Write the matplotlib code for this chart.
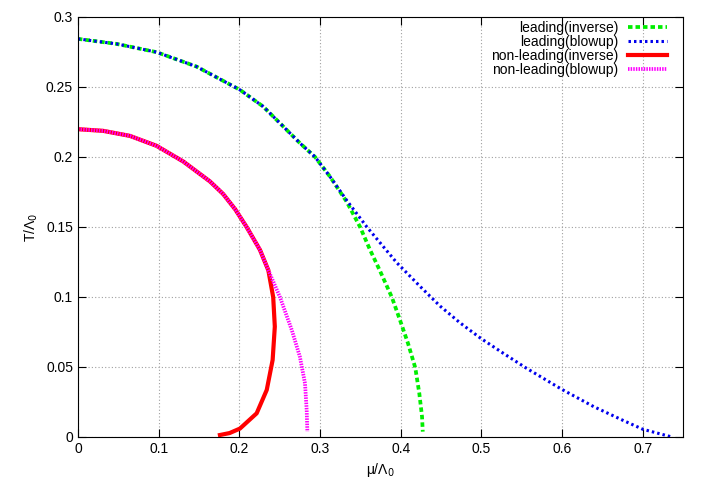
import numpy as np
from matplotlib import pyplot as plt

plt.rcParams['font.family'] = ['Liberation Sans', 'DejaVu Sans']

# leading order, inverse method
mu_lead_inv = [0.0, 0.048, 0.0975, 0.147, 0.2008, 0.2297, 0.2545, 0.2752, 0.2938,
               0.3124, 0.333, 0.3496, 0.362, 0.374, 0.389, 0.399, 0.409, 0.418,
               0.423, 0.4264, 0.4273]
T_lead_inv = [0.2843, 0.2807, 0.2748, 0.2645, 0.2479, 0.2359, 0.2217, 0.2098, 0.2,
              0.1859, 0.168, 0.15, 0.1336, 0.119, 0.0998, 0.0836, 0.0669, 0.0495,
              0.0312, 0.0145, 0.0038]

# leading order, blowup method
mu_lead_blow = [0.0, 0.048, 0.0975, 0.147, 0.2008, 0.2297, 0.2545, 0.2752, 0.2938,
                0.3124, 0.333, 0.358, 0.395, 0.424, 0.4487, 0.4735, 0.499, 0.527,
                0.556, 0.5996, 0.639, 0.676, 0.700, 0.736]
T_lead_blow = [0.2843, 0.2807, 0.2748, 0.2645, 0.2479, 0.2359, 0.2217, 0.2098, 0.2,
               0.1859, 0.169, 0.15, 0.1245, 0.1075, 0.0935, 0.0815, 0.0705, 0.0598,
               0.049, 0.034, 0.0217, 0.0117, 0.0055, 0.0]

# non-leading, inverse method
mu_nl_inv = [0.0, 0.0314, 0.0645, 0.0975, 0.1306, 0.1636, 0.18, 0.195, 0.209, 0.2256,
             0.236, 0.242, 0.244, 0.2413, 0.234, 0.2215, 0.2008, 0.188, 0.176]
T_nl_inv = [0.2198, 0.2186, 0.215, 0.2079, 0.1967, 0.1825, 0.1735, 0.1625, 0.150,
            0.1336, 0.119, 0.0998, 0.0788, 0.055, 0.0336, 0.0169, 0.006, 0.0028, 0.0014]

# non-leading, blowup method
mu_nl_blow = [0.0, 0.0314, 0.0645, 0.0975, 0.1306, 0.1636, 0.18, 0.195, 0.209, 0.2256,
              0.234, 0.242, 0.2504, 0.265, 0.275, 0.2814, 0.2835, 0.2843]
T_nl_blow = [0.2198, 0.2186, 0.215, 0.2079, 0.1967, 0.1825, 0.1735, 0.1625, 0.150,
             0.1336, 0.1217, 0.111, 0.0998, 0.0764, 0.0574, 0.0383, 0.019, 0.0038]

fig = plt.figure(figsize=(7.08, 4.96), dpi=100)
ax = fig.add_axes([0.110, 0.119, 0.855, 0.847])

ax.plot(mu_lead_inv, T_lead_inv, color='#00ee00', lw=2.7, dashes=(1.2, 0.8),
        label='leading(inverse)')
ax.plot(mu_lead_blow, T_lead_blow, color='#0000ee', lw=2.2, dashes=(0.8, 1.0),
        label='leading(blowup)')
ax.plot(mu_nl_inv, T_nl_inv, color='#ff0000', lw=3.0, solid_joinstyle='round',
        label='non-leading(inverse)')
ax.plot(mu_nl_blow, T_nl_blow, color='#ff00ff', lw=2.7, dashes=(0.4, 0.3),
        label='non-leading(blowup)')

ax.set_xlim(0, 0.75)
ax.set_ylim(0, 0.3)
ax.set_xticks(np.arange(0, 0.71, 0.1))
ax.set_xticklabels(['0', '0.1', '0.2', '0.3', '0.4', '0.5', '0.6', '0.7'])
ax.set_yticks(np.arange(0, 0.301, 0.05))
ax.set_yticklabels(['0', '0.05', '0.1', '0.15', '0.2', '0.25', '0.3'])
ax.tick_params(direction='in', top=True, right=True, length=6, labelsize=10)
ax.grid(True, color='#a0a0a0', linestyle=(0, (1, 2)), lw=0.8)
ax.set_xlabel(r'μ/Λ$_0$', fontsize=10)
ax.set_ylabel(r'T/Λ$_0$', fontsize=10)

ax.legend(loc='upper right', bbox_to_anchor=(0.9736, 0.99), frameon=False,
          markerfirst=False, fontsize=10, handlelength=2.8, handletextpad=0.7,
          labelspacing=0.0, borderaxespad=0, borderpad=0)

fig.savefig('out.png', dpi=100)
